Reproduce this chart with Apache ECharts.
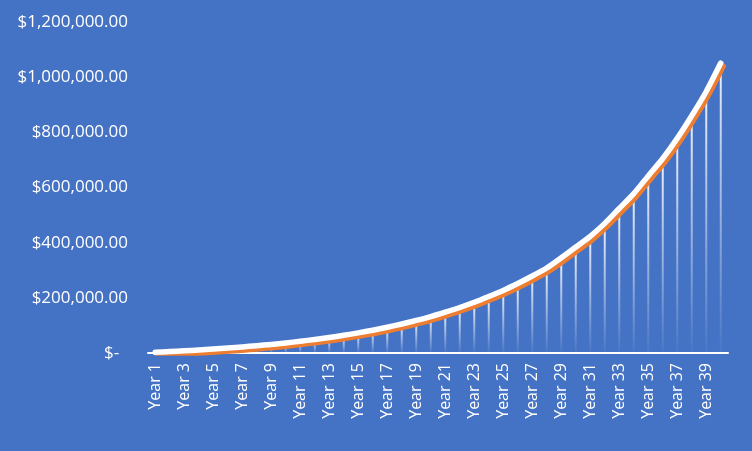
<!DOCTYPE html>
<html>
<head>
<meta charset="utf-8">
<style>
  html, body { margin: 0; padding: 0; background: #4472C4; }
  #container { width: 752px; height: 451px; }
</style>
<script src="https://cdn.jsdelivr.net/npm/echarts@6/dist/echarts.min.js"></script>
</head>
<body>
<div id="container"></div>
<script>
var years = [];
for (var i = 1; i <= 40; i++) years.push('Year ' + i);

// balance at each year
var balance = [
    2400, 5000, 7800, 10900, 14200, 17900, 21900, 26300, 31200, 36500,
    42500, 49000, 56200, 64100, 72900, 82600, 93200, 105000, 118000, 132000,
    148000, 165000, 184000, 205000, 227000, 252000, 279000, 308000, 345000, 384000,
    423000, 470000, 524000, 578000, 642000, 705000, 778000, 860000, 948000, 1051000
];

var yTicks = [0, 200000, 400000, 600000, 800000, 1000000, 1200000];

function money(v) {
    if (v === 0) return '$-  ';
    return '$' + v.toLocaleString('en-US', {minimumFractionDigits: 2, maximumFractionDigits: 2});
}

var myChart = echarts.init(document.getElementById('container'));
var option = {
    backgroundColor: '#4472C4',
    animation: false,
    grid: {
        left: 148,
        right: 24,
        top: 22,
        bottom: 98
    },
    xAxis: {
        type: 'category',
        data: years,
        boundaryGap: true,
        axisLine: { lineStyle: { color: '#ffffff', width: 2 } },
        axisTick: { show: false },
        axisLabel: {
            interval: 1,
            rotate: 90,
            margin: 10,
            color: '#ffffff',
            fontFamily: 'Open Sans',
            fontSize: 16
        }
    },
    yAxis: {
        type: 'value',
        min: yTicks[0],
        max: yTicks[yTicks.length - 1],
        interval: 200000,
        axisLine: { show: false },
        axisTick: { show: false },
        splitLine: { show: false },
        axisLabel: {
            margin: 20,
            color: '#ffffff',
            fontFamily: 'Open Sans',
            fontSize: 17,
            formatter: money
        }
    },
    series: [{
        name: 'drop',
        type: 'bar',
        data: balance,
        barWidth: 2,
        z: 1,
        silent: true,
        itemStyle: {
            color: new echarts.graphic.LinearGradient(0, 0, 0, 1, [
                { offset: 0, color: 'rgba(255,255,255,0.9)' },
                { offset: 1, color: 'rgba(255,255,255,0.03)' }
            ])
        }
    }, {
        name: 'Balance',
        type: 'line',
        data: balance,
        z: 3,
        symbol: 'none',
        smooth: 0.2,
        lineStyle: {
            color: '#ffffff',
            width: 5.5,
            cap: 'round',
            join: 'round',
            shadowColor: '#ED7D31',
            shadowBlur: 0,
            shadowOffsetX: 2.5,
            shadowOffsetY: 3
        }
    }]
};
myChart.setOption(option);
</script>
</body>
</html>
